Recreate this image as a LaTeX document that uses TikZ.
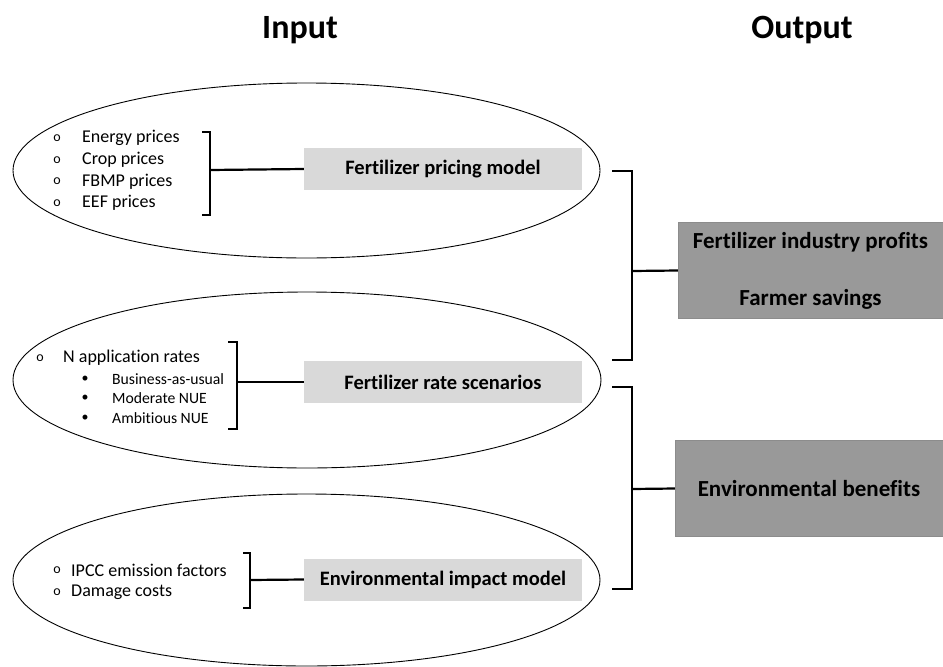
\documentclass[tikz,border=0pt]{standalone}
\usepackage{fontspec}
\setmainfont{Carlito}[Ligatures=NoCommon]
\usetikzlibrary{positioning}

\tikzset{
  oval/.style={draw,line width=0.9pt},
  brk/.style={line width=2.2pt},
  inbox/.style={fill=gray!30,inner sep=0pt,minimum width=278pt,minimum height=42pt,
    font=\bfseries\fontsize{20.5}{24}\selectfont},
  outbox/.style={fill=gray!80,draw=gray!90,inner sep=0pt,minimum height=96pt,align=center,
    font=\bfseries\fontsize{23}{28}\selectfont},
  item/.style={anchor=west,inner sep=0pt,font=\fontsize{18}{21}\selectfont},
  subitem/.style={anchor=west,inner sep=0pt,font=\fontsize{15.7}{18}\selectfont},
  ring/.style={inner sep=0pt,font=\fontsize{14}{16}\selectfont},
  title/.style={font=\bfseries\fontsize{34}{38}\selectfont}
}

\begin{document}
\begin{tikzpicture}[x=1pt,y=-1pt]
  \useasboundingbox (0,0) rectangle (943,667);

  % headings
  \node[title] (input) at (300,30) {Input};
  \node[title] (output) at (802,30) {Output};

  % the three input ovals
  \draw[oval] (306.5,170.5) ellipse [x radius=293.5pt, y radius=87.5pt];
  \draw[oval] (307,380) ellipse [x radius=294pt, y radius=88pt];
  \draw[oval] (306.5,580) ellipse [x radius=293.5pt, y radius=86pt];

  % models
  \node[inbox] (pricing) at (443,169) {Fertilizer pricing model};
  \node[inbox] (rate) at (443,382) {Fertilizer rate scenarios};
  \node[inbox] (impact) at (443,579.5) {Environmental impact model};

  % outputs
  \node[outbox,minimum width=265pt] (profits) at (810.5,270.5)
    {Fertilizer industry profits\\[29pt]Farmer savings};
  \node[outbox,minimum width=268pt] (benefits) at (809,488.5) {Environmental benefits};

  % price inputs
  \foreach \txt [count=\i] in {Energy prices,Crop prices,FBMP prices,EEF prices} {
    \node[ring] (po\i) at (57,116.3+21.7*\i) {o};
    \node[item] (p\i) at (82,116.3+21.7*\i) {\txt};
  }

  % rate inputs
  \node[ring] (ro) at (40,358) {o};
  \node[item] (rates) at (63,358) {N application rates};
  \foreach \txt [count=\i] in {Business-as-usual,Moderate NUE,Ambitious NUE} {
    \node[ring] (rb\i) at (85,359.5+19.5*\i) {\textbullet};
    \node[subitem] (r\i) at (112,359.5+19.5*\i) {\txt};
  }

  % impact inputs
  \foreach \txt [count=\i] in {IPCC emission factors,Damage costs} {
    \node[ring] (io\i) at (57,548+22*\i) {o};
    \node[item] (i\i) at (71,548+22*\i) {\txt};
  }

  % left brackets
  \draw[brk] (202,132) -- (210,132) -- (210,215) -- (202,215);
  \draw[brk] (228,342) -- (237,342) -- (237,429) -- (228,429);
  \draw[brk] (243,553) -- (250,553) -- (250,608) -- (243,608);
  \coordinate (lb1) at (210,170);
  \coordinate (lb2) at (237,382);
  \coordinate (lb3) at (250,580);
  \draw[brk] (lb1) -- (pricing.west);
  \draw[brk] (lb2) -- (rate.west);
  \draw[brk] (lb3) -- (impact.west);

  % right brackets
  \draw[brk] (612,171) -- (632,171) -- (632,360) -- (612,360);
  \draw[brk] (612,387) -- (632,387) -- (632,589) -- (612,589);
  \coordinate (rb1) at (632,271);
  \coordinate (rb2) at (632,489);
  \draw[brk] (rb1) -- (profits.west);
  \draw[brk] (rb2) -- (benefits.west);
\end{tikzpicture}
\end{document}
